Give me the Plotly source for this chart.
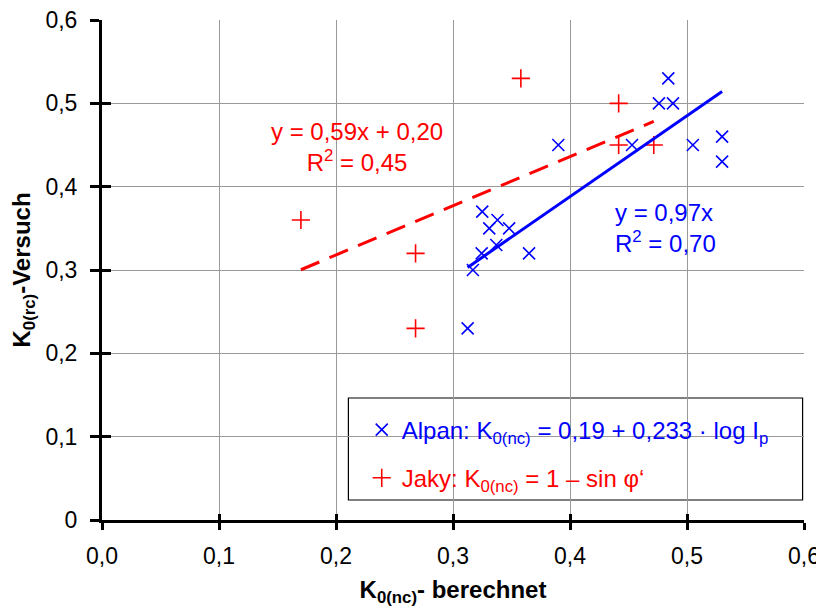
import plotly.graph_objects as go

# ---------------- data ----------------
alpan_x = [0.3125, 0.317, 0.3245, 0.325, 0.331, 0.338, 0.337, 0.348, 0.365,
           0.390, 0.453, 0.476, 0.488, 0.484, 0.505, 0.530, 0.530]
alpan_y = [0.23, 0.30, 0.32, 0.37, 0.35, 0.36, 0.33, 0.35, 0.32,
           0.45, 0.45, 0.50, 0.50, 0.53, 0.45, 0.46, 0.43]

jaky_x = [0.170, 0.268, 0.268, 0.358, 0.4416, 0.4416, 0.4716]
jaky_y = [0.36, 0.32, 0.23, 0.53, 0.50, 0.45, 0.45]

# trend line coefficients (as printed on the chart)
alpan_slope = 0.97
jaky_slope, jaky_intercept = 0.59, 0.20

x_tickvals = [0.0, 0.1, 0.2, 0.3, 0.4, 0.5, 0.6]
x_ticktext = ["0,0", "0,1", "0,2", "0,3", "0,4", "0,5", "0,6"]
y_tickvals = [0.0, 0.1, 0.2, 0.3, 0.4, 0.5, 0.6]
y_ticktext = ["0", "0,1", "0,2", "0,3", "0,4", "0,5", "0,6"]

alpan_name = "Alpan: K<sub>0(nc)</sub> = 0,19 + 0,233 · log I<sub>p</sub>"
jaky_name = "Jaky: K<sub>0(nc)</sub> = 1 – sin φ‘"

BLUE = "#0000ff"
RED = "#ff0000"
FONT = "Liberation Sans, Arial, sans-serif"

# ---------------- figure ----------------
fig = go.Figure()

ax_min, ax_max = min(alpan_x), max(alpan_x)
jx_min, jx_max = min(jaky_x), max(jaky_x)

fig.add_trace(go.Scatter(
    x=alpan_x, y=alpan_y, mode="markers",
    name=f'<span style="color:{BLUE}">{alpan_name}</span>',
    legendgroup="a",
    marker=dict(symbol="x-thin", size=12, color=BLUE, line=dict(color=BLUE, width=1.6)),
))
fig.add_trace(go.Scatter(
    x=jaky_x, y=jaky_y, mode="markers",
    name=f'<span style="color:{RED}">{jaky_name}</span>',
    legendgroup="b",
    marker=dict(symbol="cross-thin", size=13, color=RED, line=dict(color=RED, width=1.6)),
))
fig.add_trace(go.Scatter(
    x=[jx_min, jx_max],
    y=[jaky_slope * jx_min + jaky_intercept, jaky_slope * jx_max + jaky_intercept],
    mode="lines", showlegend=False, hoverinfo="skip",
    line=dict(color=RED, width=3, dash="20px,11px"),
))
fig.add_trace(go.Scatter(
    x=[ax_min, ax_max], y=[alpan_slope * ax_min, alpan_slope * ax_max],
    mode="lines", showlegend=False, hoverinfo="skip",
    line=dict(color=BLUE, width=3),
))
# dummy trace for the overlay axes (inside half of the crossing ticks)
fig.add_trace(go.Scatter(x=[None], y=[None], xaxis="x2", yaxis="y2",
                         showlegend=False, hoverinfo="skip", mode="markers"))

GRID = "#999999"
fig.update_layout(
    width=816, height=599,
    margin=dict(l=94, r=20, t=12, b=87, autoexpand=False),
    paper_bgcolor="white", plot_bgcolor="white",
    font=dict(family=FONT, size=23, color="black"),
    showlegend=True,
    legend=dict(
        x=0.37, y=0.225, xanchor="left", yanchor="top",
        bgcolor="rgba(0,0,0,0)", borderwidth=0,
        font=dict(family=FONT, size=24),
        traceorder="grouped", tracegroupgap=14,
    ),
    xaxis=dict(
        range=[0, 0.6], tickvals=x_tickvals, ticktext=x_ticktext,
        showgrid=True, gridcolor=GRID, gridwidth=1,
        showline=True, linecolor="black", linewidth=3,
        ticks="outside", ticklen=7, tickwidth=2.5, tickcolor="black",
        zeroline=False, automargin=False, ticklabeloverflow="allow",
        tickfont=dict(size=23), ticklabelstandoff=6,
        title=dict(text="<b>K<sub>0(nc)</sub>- berechnet</b>", font=dict(size=24), standoff=28),
    ),
    yaxis=dict(
        range=[0, 0.6], tickvals=y_tickvals, ticktext=y_ticktext,
        showgrid=True, gridcolor=GRID, gridwidth=1,
        showline=True, linecolor="black", linewidth=3,
        ticks="outside", ticklen=9, tickwidth=2.5, tickcolor="black",
        zeroline=False, automargin=False, ticklabeloverflow="allow",
        tickfont=dict(size=23),
        ticklabelstandoff=8,
        title=dict(text="<b>K<sub>0(rc)</sub>-Versuch</b>", font=dict(size=24), standoff=12),
    ),
    xaxis2=dict(
        range=[0, 0.6], overlaying="x", anchor="y2", side="bottom",
        tickvals=x_tickvals, showticklabels=False, showgrid=False, zeroline=False,
        ticks="inside", ticklen=6, tickwidth=2.5, tickcolor="black", showline=False,
    ),
    yaxis2=dict(
        range=[0, 0.6], overlaying="y", anchor="x2", side="left",
        tickvals=y_tickvals, showticklabels=False, showgrid=False, zeroline=False,
        ticks="inside", ticklen=9, tickwidth=2.5, tickcolor="black", showline=False,
    ),
    shapes=[
        dict(type="rect", xref="paper", yref="paper",
             x0=0.351, x1=0.998, y0=0.04, y1=0.244,
             line=dict(color="black", width=1.2), fillcolor="white", layer="between"),
    ],
    annotations=[
        dict(x=0.2177, y=0.448, xref="x", yref="y", showarrow=False,
             text="y = 0,59x + 0,20<br>R<sup>2</sup> = 0,45", align="center",
             xanchor="center", yanchor="middle",
             font=dict(family=FONT, size=24, color=RED)),
        dict(x=0.4365, y=0.3507, xref="x", yref="y", showarrow=False,
             text="y = 0,97x<br>R<sup>2</sup> = 0,70", align="left",
             xanchor="left", yanchor="middle",
             font=dict(family=FONT, size=24, color=BLUE)),
    ],
)

fig.write_html("out.html")
